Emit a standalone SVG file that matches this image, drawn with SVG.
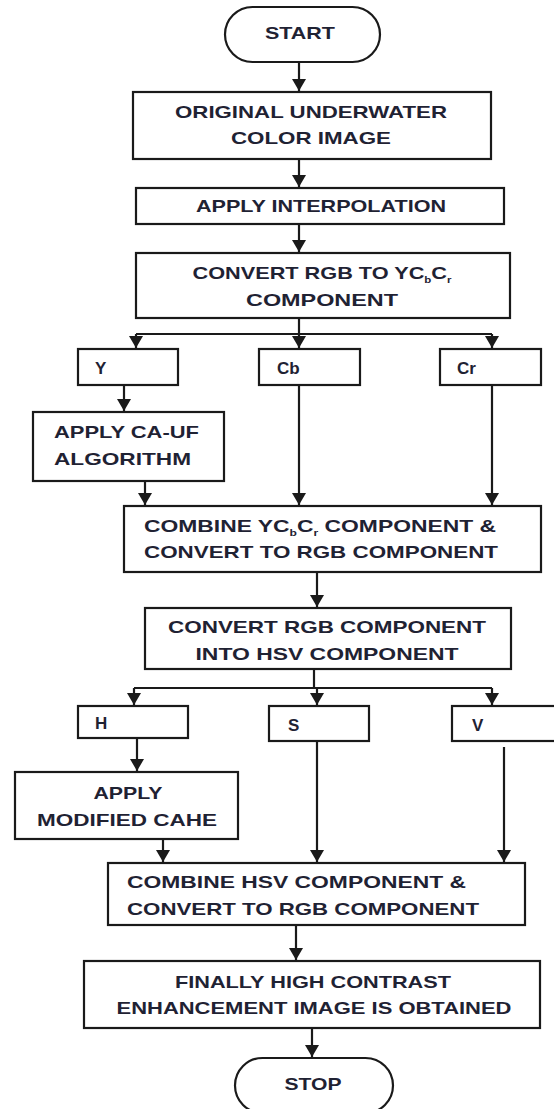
<svg xmlns="http://www.w3.org/2000/svg" width="554" height="1109" viewBox="0 0 554 1109">
<style>
.b{fill:#fff;stroke:#1a1a1a;stroke-width:2.2}
.t{font-family:"Liberation Sans",Arial,sans-serif;font-weight:bold;font-size:17px;fill:#1f2233}
.m{text-anchor:middle}
.c line,.c path{stroke:#1a1a1a;stroke-width:2.2;fill:none}
.a{marker-end:url(#ah)}
</style>
<defs>
<marker id="ah" viewBox="0 0 12 14" refX="12" refY="7" markerWidth="12" markerHeight="14" markerUnits="userSpaceOnUse" orient="auto">
<path d="M0,0 L12,7 L0,14 z" fill="#1a1a1a"/>
</marker>
</defs>
<rect width="554" height="1109" fill="#fff"/>
<g class="c">
<line class="a" x1="299" y1="62" x2="299" y2="91"/>
<line class="a" x1="299" y1="159" x2="299" y2="187"/>
<line class="a" x1="299" y1="224" x2="299" y2="252"/>
<line x1="299" y1="318" x2="299" y2="334"/>
<line x1="136" y1="334" x2="492" y2="334"/>
<line class="a" x1="136" y1="334" x2="136" y2="348"/>
<line class="a" x1="299" y1="334" x2="299" y2="348"/>
<line class="a" x1="492" y1="334" x2="492" y2="348"/>
<line class="a" x1="124" y1="385" x2="124" y2="411"/>
<line class="a" x1="145" y1="481" x2="145" y2="505"/>
<line class="a" x1="299" y1="385" x2="299" y2="505"/>
<line class="a" x1="492" y1="385" x2="492" y2="505"/>
<line class="a" x1="317" y1="572" x2="317" y2="607"/>
<line x1="314" y1="669" x2="314" y2="688"/>
<line x1="134" y1="688" x2="492" y2="688"/>
<line class="a" x1="134" y1="688" x2="134" y2="705"/>
<line class="a" x1="317" y1="688" x2="317" y2="705"/>
<line class="a" x1="492" y1="688" x2="492" y2="705"/>
<line class="a" x1="137" y1="738" x2="137" y2="771"/>
<line class="a" x1="163" y1="839" x2="163" y2="862"/>
<line class="a" x1="317" y1="741" x2="317" y2="862"/>
<line class="a" x1="504" y1="747" x2="504" y2="862"/>
<line class="a" x1="296" y1="925" x2="296" y2="960"/>
<line class="a" x1="312" y1="1028" x2="312" y2="1057"/>
</g>
<g id="start"><rect class="b" x="225" y="7" width="155" height="55" rx="27.5"/><text class="t m" x="300" y="39" textLength="70" lengthAdjust="spacingAndGlyphs">START</text></g>
<g id="original"><rect class="b" x="133" y="92" width="358" height="67"/><text class="t m" x="311" y="118" textLength="272" lengthAdjust="spacingAndGlyphs">ORIGINAL UNDERWATER</text><text class="t m" x="311" y="144" textLength="160" lengthAdjust="spacingAndGlyphs">COLOR IMAGE</text></g>
<g id="interp"><rect class="b" x="136" y="188" width="368" height="36"/><text class="t m" x="321" y="212" textLength="250" lengthAdjust="spacingAndGlyphs">APPLY INTERPOLATION</text></g>
<g id="toycbcr"><rect class="b" x="136" y="253" width="374" height="65"/><text class="t m" x="322" y="279" textLength="259" lengthAdjust="spacingAndGlyphs">CONVERT RGB TO YC<tspan font-size="9" dy="4">b</tspan><tspan dy="-4">C</tspan><tspan font-size="9" dy="4">r</tspan></text><text class="t m" x="322" y="306" textLength="152" lengthAdjust="spacingAndGlyphs">COMPONENT</text></g>
<g id="y"><rect class="b" x="78" y="349" width="100" height="36"/><text class="t" x="95" y="374">Y</text></g>
<g id="cb"><rect class="b" x="259" y="349" width="101" height="36"/><text class="t" x="277" y="374">Cb</text></g>
<g id="cr"><rect class="b" x="440" y="349" width="101" height="36"/><text class="t" x="457" y="374">Cr</text></g>
<g id="cauf"><rect class="b" x="33" y="412" width="191" height="69"/><text class="t" x="54" y="438" textLength="145" lengthAdjust="spacingAndGlyphs">APPLY CA-UF</text><text class="t" x="54" y="465" textLength="137" lengthAdjust="spacingAndGlyphs">ALGORITHM</text></g>
<g id="combine1"><rect class="b" x="124" y="506" width="417" height="66"/><text class="t" x="144" y="532" textLength="352" lengthAdjust="spacingAndGlyphs">COMBINE YC<tspan font-size="9" dy="4">b</tspan><tspan dy="-4">C</tspan><tspan font-size="9" dy="4">r</tspan><tspan dy="-4"> COMPONENT &amp;</tspan></text><text class="t" x="144" y="558" textLength="354" lengthAdjust="spacingAndGlyphs">CONVERT TO RGB COMPONENT</text></g>
<g id="tohsv"><rect class="b" x="145" y="608" width="366" height="61"/><text class="t m" x="327" y="633" textLength="318" lengthAdjust="spacingAndGlyphs">CONVERT RGB COMPONENT</text><text class="t m" x="327" y="660" textLength="263" lengthAdjust="spacingAndGlyphs">INTO HSV COMPONENT</text></g>
<g id="h"><rect class="b" x="78" y="706" width="110" height="32"/><text class="t" x="95" y="729">H</text></g>
<g id="s"><rect class="b" x="269" y="706" width="100" height="35"/><text class="t" x="288" y="731">S</text></g>
<g id="v"><rect class="b" x="452" y="706" width="110" height="35"/><text class="t" x="472" y="731">V</text></g>
<g id="cahe"><rect class="b" x="15" y="772" width="223" height="67"/><text class="t m" x="128" y="799" textLength="69" lengthAdjust="spacingAndGlyphs">APPLY</text><text class="t m" x="127" y="826" textLength="180" lengthAdjust="spacingAndGlyphs">MODIFIED CAHE</text></g>
<g id="combine2"><rect class="b" x="108" y="863" width="417" height="62"/><text class="t" x="127" y="888" textLength="339" lengthAdjust="spacingAndGlyphs">COMBINE HSV COMPONENT &amp;</text><text class="t" x="127" y="915" textLength="352" lengthAdjust="spacingAndGlyphs">CONVERT TO RGB COMPONENT</text></g>
<g id="final"><rect class="b" x="84" y="961" width="456" height="67"/><text class="t m" x="313" y="988" textLength="276" lengthAdjust="spacingAndGlyphs">FINALLY HIGH CONTRAST</text><text class="t m" x="314" y="1014" textLength="395" lengthAdjust="spacingAndGlyphs">ENHANCEMENT IMAGE IS OBTAINED</text></g>
<g id="stop"><rect class="b" x="235" y="1058" width="158" height="55" rx="27.5"/><text class="t m" x="313" y="1090" textLength="57" lengthAdjust="spacingAndGlyphs">STOP</text></g>
</svg>
